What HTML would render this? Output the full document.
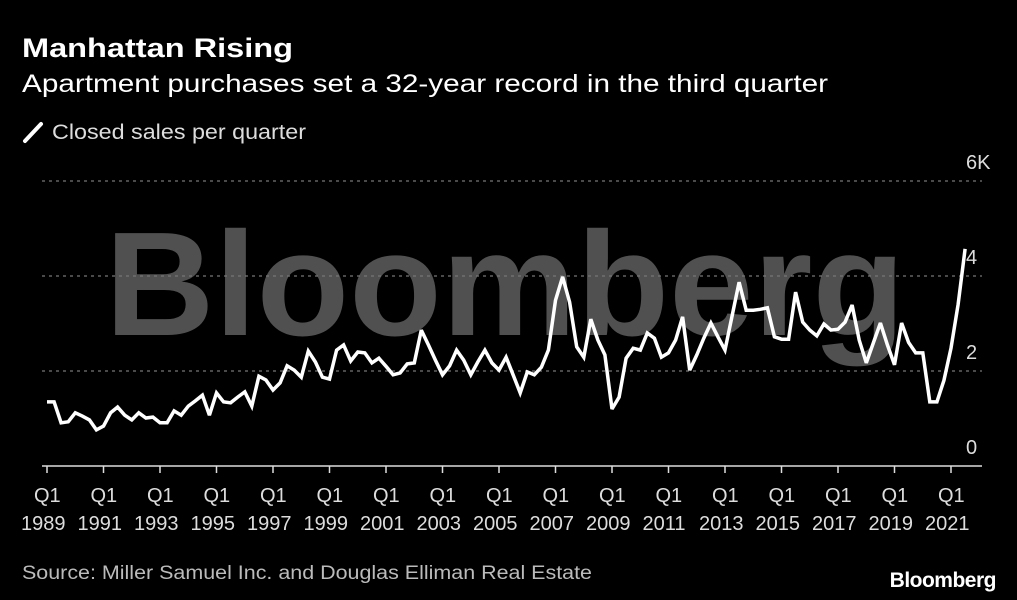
<!DOCTYPE html>
<html><head><meta charset="utf-8"><style>
html,body{margin:0;padding:0;background:#000;}
svg{display:block;font-family:"Liberation Sans",Arial,sans-serif;}
</style></head><body>
<svg id="chart" width="1017" height="600" viewBox="0 0 1017 600">
<rect x="0" y="0" width="1017" height="600" fill="#000"/>
<text x="105" y="335" font-size="148" font-weight="bold" fill="#505050" textLength="800" lengthAdjust="spacingAndGlyphs">Bloomberg</text>
<text x="22" y="57" font-size="27" font-weight="bold" fill="#fff" textLength="271" lengthAdjust="spacingAndGlyphs">Manhattan Rising</text>
<text x="22" y="92" font-size="25" fill="#fff" textLength="806" lengthAdjust="spacingAndGlyphs">Apartment purchases set a 32-year record in the third quarter</text>
<g>
<line x1="25" y1="141" x2="41" y2="124" stroke="#fff" stroke-width="4" stroke-linecap="round"/>
<text x="52" y="139" font-size="21" fill="#ddd" textLength="254" lengthAdjust="spacingAndGlyphs">Closed sales per quarter</text>
</g>
<g id="grid"></g>
<g id="xaxis"></g>
<g id="series"></g>
<text x="22" y="579" font-size="19" fill="#bbb" textLength="570" lengthAdjust="spacingAndGlyphs">Source: Miller Samuel Inc. and Douglas Elliman Real Estate</text>
<text x="996" y="587" font-size="21" font-weight="bold" fill="#fff" text-anchor="end" letter-spacing="-0.5">Bloomberg</text>
</svg>
<script>
const startYear = 1989;
const yTicks = [0, 2, 4, 6];
const yTickLabels = ["0", "2", "4", "6K"];
const sales = [1.35,1.35,0.91,0.93,1.12,1.05,0.97,0.76,0.84,1.12,1.24,1.07,0.97,1.12,1.01,1.03,0.91,0.91,1.16,1.07,1.26,1.37,1.49,1.07,1.54,1.35,1.33,1.45,1.56,1.26,1.89,1.81,1.60,1.75,2.11,2.02,1.87,2.42,2.19,1.87,1.83,2.44,2.55,2.21,2.40,2.38,2.17,2.27,
2.10,1.92,1.96,2.15,2.17,2.86,2.55,2.23,1.92,2.11,2.44,2.23,1.92,2.19,2.44,2.17,2.02,2.29,1.92,1.54,1.98,1.92,2.08,2.44,3.49,3.98,3.45,2.51,2.29,3.09,2.65,2.34,1.20,1.45,2.27,2.48,2.44,2.80,2.69,2.29,2.38,2.65,3.14,2.02,
2.34,2.69,3.01,2.72,2.44,3.16,3.87,3.28,3.28,3.30,3.33,2.72,2.67,2.67,3.66,3.03,2.86,2.74,2.99,2.86,2.88,3.03,3.39,2.65,2.17,2.59,3.01,2.55,2.13,3.01,2.60,2.38,2.38,1.35,1.35,1.80,2.48,3.40,4.57];
const tickYears = [1989,1991,1993,1995,1997,1999,2001,2003,2005,2007,2009,2011,2013,2015,2017,2019,2021];

const NS = "http://www.w3.org/2000/svg";
const x = i => 47 + i * (904 / 128);
const xYear = yr => x((yr - startYear) * 4);
const y = v => 466 - v * 47.5;
function mk(tag, attrs, parent){const e=document.createElementNS(NS,tag);for(const k in attrs)e.setAttribute(k,attrs[k]);parent.appendChild(e);return e;}

const grid = document.getElementById('grid');
yTicks.forEach((t, k) => {
  if (t > 0) {
    const l = mk('line', {x1:42, x2:982, y1:y(t), y2:y(t), stroke:'#777', 'stroke-width':1.3, 'stroke-dasharray':'3,4'}, grid);
    
    
  }
  const tx = mk('text', {x:966, y:y(t) - 12, 'font-size':20, fill:'#ddd'}, grid);
  tx.textContent = yTickLabels[k];
  
  
});

const xa = document.getElementById('xaxis');
const ax = mk('line', {x1:42, x2:982, y1:466, y2:466, stroke:'#ddd', 'stroke-width':1.5}, xa);


tickYears.forEach(yr => {
  const px = xYear(yr);
  const tk = mk('line', {x1:px, x2:px, y1:466, y2:473, stroke:'#ddd', 'stroke-width':1.5}, xa);
  
  
  const t1 = mk('text', {x:px - 13, y:502, 'font-size':20, fill:'#ddd'}, xa);
  t1.textContent = 'Q1';
  
  
  const t2 = mk('text', {x:px - 26, y:530, 'font-size':20, fill:'#ddd'}, xa);
  t2.textContent = String(yr);
  
  
});

const s = document.getElementById('series');
const pts = sales.map((v, i) => x(i).toFixed(1) + ',' + y(v).toFixed(1)).join(' ');
const pl = mk('polyline', {points:pts, fill:'none', stroke:'#fff', 'stroke-width':3.5, 'stroke-linejoin':'miter', 'stroke-miterlimit':3}, s);


</script>
</body></html>
